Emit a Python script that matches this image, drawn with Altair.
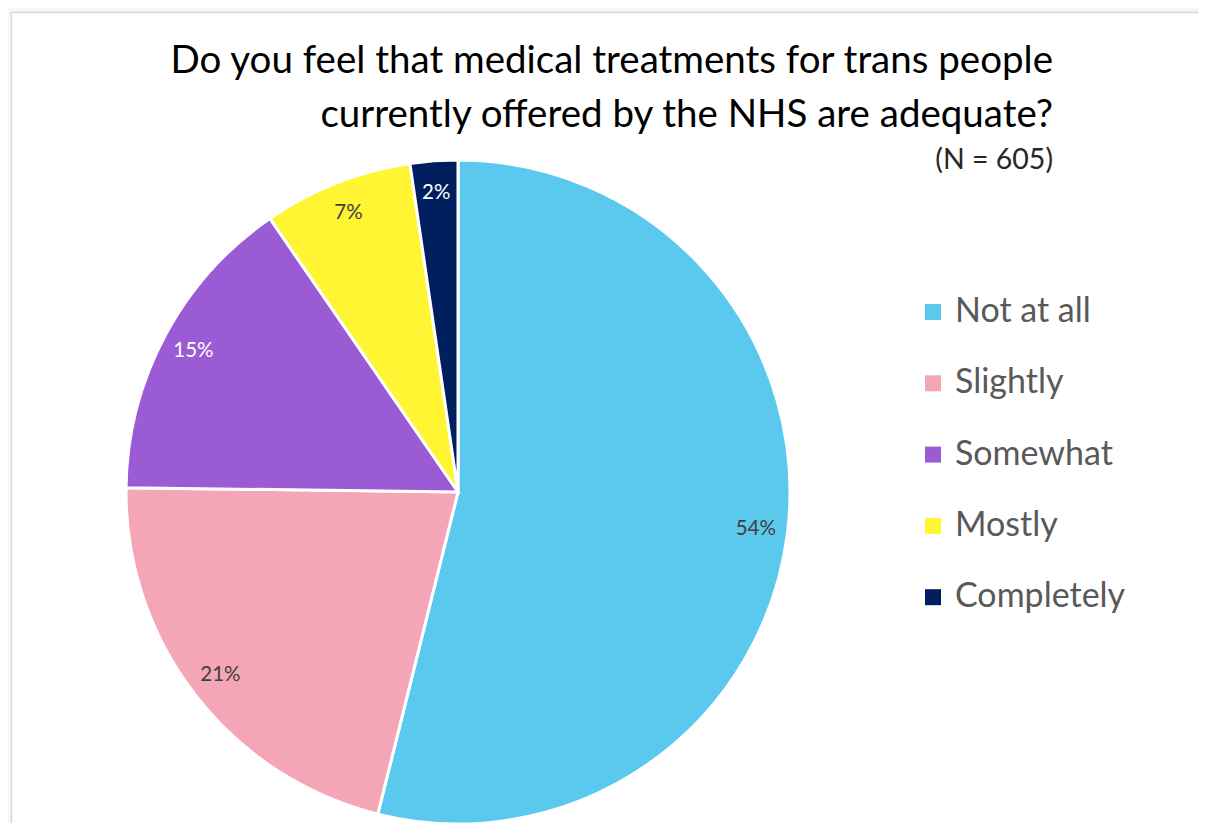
import altair as alt
import pandas as pd

categories = ["Not at all", "Slightly", "Somewhat", "Mostly", "Completely"]
counts = [326, 129, 92, 44, 14]
pct_labels = ["54%", "21%", "15%", "7%", "2%"]
colors = ["#5BC9ED", "#F4A6B7", "#9B5BD4", "#FFF533", "#001F5F"]
label_colors = ["#404040", "#404040", "#FFFFFF", "#404040", "#FFFFFF"]

title_lines = ["Do you feel that medical treatments for trans people",
               "currently offered by the NHS are adequate?"]
subtitle = "(N = 605)"

FONT = "Lato"
W, H = 1190, 815
CX, CY, R = 450, 484, 332

df = pd.DataFrame({
    "cat": categories,
    "count": counts,
    "label": pct_labels,
    "tcolor": label_colors,
    "idx": list(range(len(categories))),
})

bg = alt.Chart(pd.DataFrame({"a": [0]})).mark_rect(
    fill="white", stroke="#d9d9d9", strokeWidth=1.5
).encode(x=alt.value(3.5), y=alt.value(4.5), x2=alt.value(W + 20), y2=alt.value(H + 20))

base = alt.Chart(df).encode(
    theta=alt.Theta("count:Q", stack=True),
    order=alt.Order("idx:Q"),
)

arcs = base.mark_arc(radius=R, stroke="white", strokeWidth=3).encode(
    x=alt.value(CX), y=alt.value(CY),
    color=alt.Color(
        "cat:N",
        scale=alt.Scale(domain=categories, range=colors),
        sort=categories,
        legend=alt.Legend(
            title=None, orient="none", legendX=908, legendY=287,
            symbolType="square", symbolSize=256, symbolStrokeWidth=0,
            labelFontSize=34, labelFont=FONT, labelColor="#595959",
            labelOffset=5, rowPadding=37.3, labelLimit=400,
        ),
    ),
)

texts = base.mark_text(radius=300, fontSize=20.5, font=FONT).encode(
    x=alt.value(CX), y=alt.value(CY),
    text="label:N",
    color=alt.Color("tcolor:N", scale=None),
)

tdf = pd.DataFrame({"t": title_lines + [subtitle], "y": [65, 119, 161]})
t1 = alt.Chart(tdf.iloc[:2]).mark_text(
    align="right", baseline="alphabetic", fontSize=38.5, font=FONT, color="black"
).encode(text="t:N", x=alt.value(1045), y=alt.Y("y:Q", scale=None))
t2 = alt.Chart(tdf.iloc[2:]).mark_text(
    align="right", baseline="alphabetic", fontSize=28.5, font=FONT, color="#262626"
).encode(text="t:N", x=alt.value(1045), y=alt.Y("y:Q", scale=None))

chart = alt.layer(bg, arcs, texts, t1, t2).properties(
    width=W, height=H, autosize=alt.AutoSizeParams(type="none"), padding=0,
    background="#FDF3F3",
).configure_view(stroke=None)

chart.save("out.html", embed_options={"renderer": "svg", "actions": False})
